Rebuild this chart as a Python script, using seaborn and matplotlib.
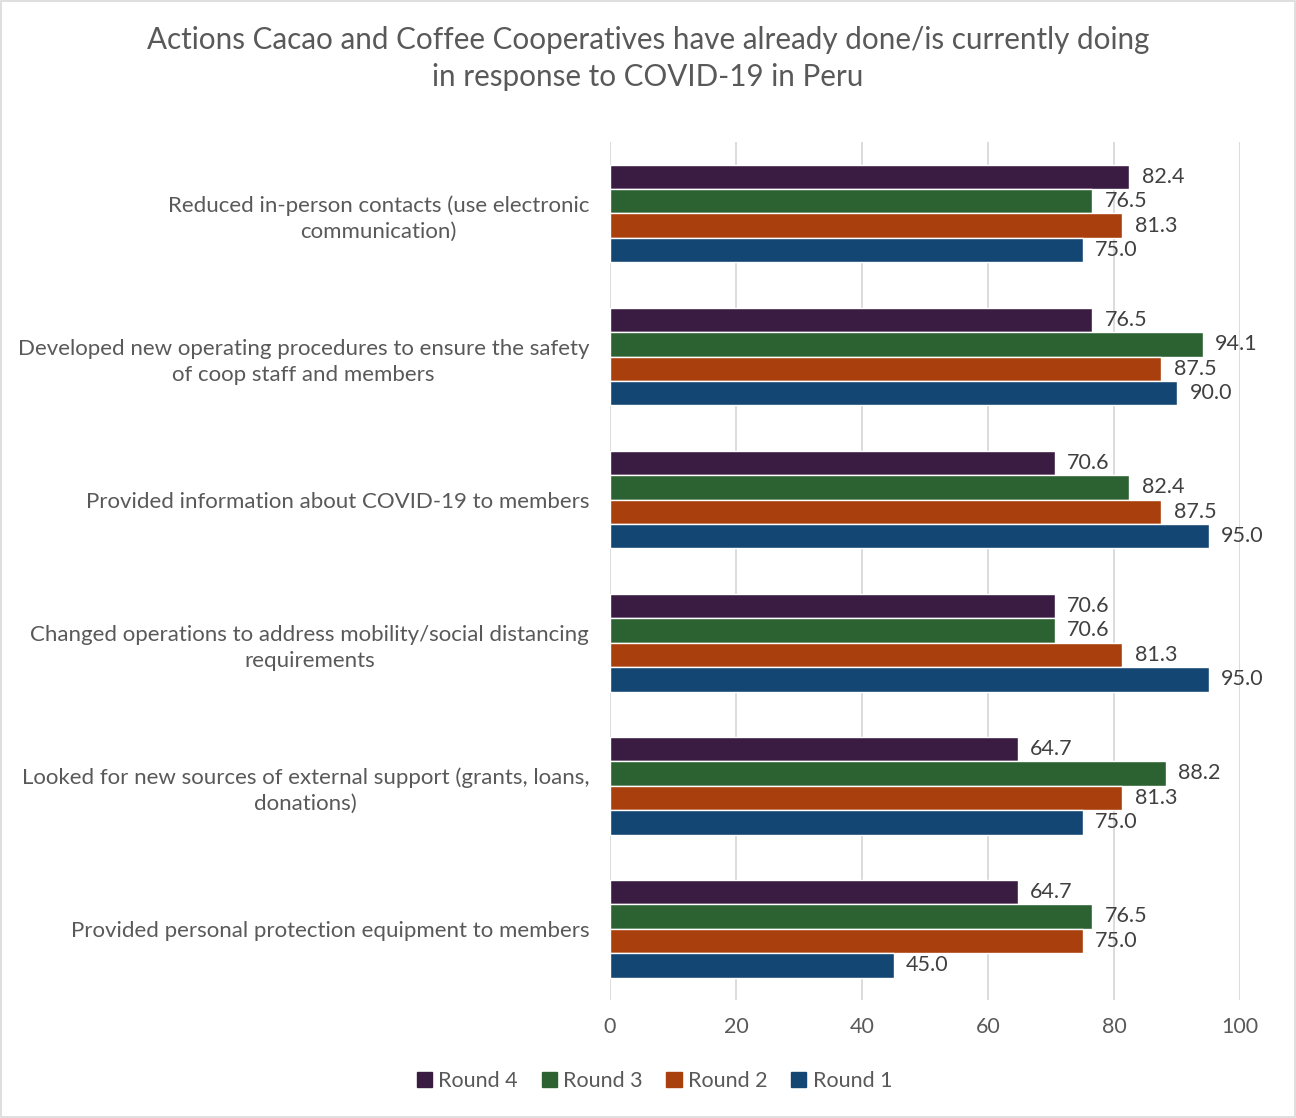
import matplotlib
matplotlib.use("Agg")
import matplotlib.pyplot as plt
import seaborn as sns
import pandas as pd
from matplotlib.patches import Rectangle

actions = [
    "Reduced in-person contacts (use electronic\ncommunication)",
    "Developed new operating procedures to ensure the safety\nof coop staff and members",
    "Provided information about COVID-19 to members",
    "Changed operations to address mobility/social distancing\nrequirements",
    "Looked for new sources of external support (grants, loans,\ndonations)",
    "Provided personal protection equipment to members",
]
rounds = ["Round 4", "Round 3", "Round 2", "Round 1"]
round4 = [82.4, 76.5, 70.6, 70.6, 64.7, 64.7]
round3 = [76.5, 94.1, 82.4, 70.6, 88.2, 76.5]
round2 = [81.3, 87.5, 87.5, 81.3, 81.3, 75.0]
round1 = [75.0, 90.0, 95.0, 95.0, 75.0, 45.0]
colors = ["#3A1C42", "#2C6231", "#A83F0C", "#144673"]

rows = []
for r, vals in zip(rounds, [round4, round3, round2, round1]):
    for a, v in zip(actions, vals):
        rows.append({"action": a, "round": r, "value": v})
df = pd.DataFrame(rows)

sns.set_theme(style="white")
plt.rcParams["font.family"] = ["Lato", "DejaVu Sans"]
text_color = "#595959"

fig = plt.figure(figsize=(12.96, 11.18), dpi=100)
ax = fig.add_axes([0.4707, 0.1055, 0.4861, 0.7675])

sns.barplot(data=df, y="action", x="value", hue="round", order=actions,
            hue_order=rounds, palette=colors, orient="h", width=0.685,
            gap=0, saturation=1, ax=ax, legend=False)

for cont in ax.containers:
    ax.bar_label(cont, fmt="%.1f", padding=9, fontsize=15.5, color="#404040")

ax.set_xlim(0, 100)
ax.set_ylim(len(actions) - 0.5, -0.5)
ax.set_xticks(range(0, 101, 20))
ax.xaxis.grid(True, color="#D9D9D9", linewidth=1.3)
ax.set_axisbelow(True)
for s in ax.spines.values():
    s.set_visible(False)
ax.set_xlabel("")
ax.set_ylabel("")
ax.tick_params(axis="x", length=0, pad=12, labelsize=15.5, labelcolor=text_color)
ax.tick_params(axis="y", length=0, pad=15, labelsize=16.0, labelcolor=text_color)
for lab in ax.get_yticklabels():
    lab.set_horizontalalignment("right")
    lab.set_multialignment("center")
    lab.set_linespacing(1.4)

fig.suptitle("Actions Cacao and Coffee Cooperatives have already done/is currently doing\nin response to COVID-19 in Peru",
             y=0.977, fontsize=21.3, color=text_color, linespacing=1.4)

handles = [Rectangle((0, 0), 1, 1, color=c) for c in colors]
fig.legend(handles, rounds, loc="center", bbox_to_anchor=(0.505, 0.033), ncol=4,
           frameon=False, fontsize=15.5, labelcolor=text_color, handlelength=0.7,
           handleheight=0.7, handletextpad=0.3, columnspacing=1.1)

border = Rectangle((0.001, 0.001), 0.998, 0.998, transform=fig.transFigure,
                   fill=False, edgecolor="#D9D9D9", linewidth=1.2)
fig.patches.append(border)

fig.savefig("out.png", dpi=100, facecolor="white")
